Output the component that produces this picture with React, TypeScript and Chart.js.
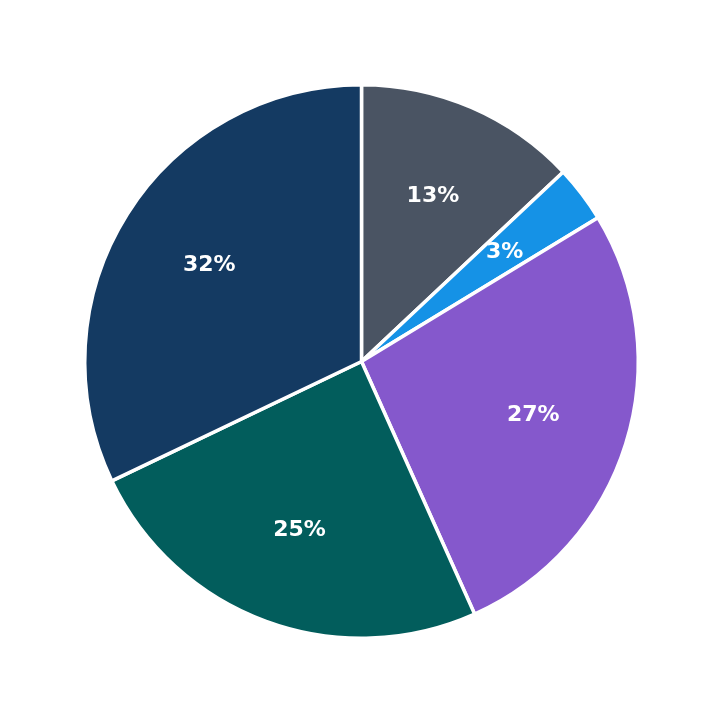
import Chart from 'chart.js/auto'
import { useEffect, useRef } from 'react'

const labels = ['Gray', 'Blue', 'Purple', 'Teal', 'Navy']
const values = [13.0, 3.3, 27.0, 24.6, 32.1]
const colors = ['#4a5463', '#1592e6', '#8558cc', '#025d5c', '#143a62']

const percentLabels = {
  id: 'percentLabels',
  afterDatasetsDraw(chart: any) {
    const ctx = chart.ctx
    const meta = chart.getDatasetMeta(0)
    const data = chart.data.datasets[0].data as number[]
    const total = data.reduce((a, b) => a + b, 0)
    ctx.save()
    ctx.fillStyle = '#ffffff'
    ctx.font = 'bold 22px "DejaVu Sans"'
    ctx.textAlign = 'center'
    ctx.textBaseline = 'middle'
    meta.data.forEach((arc: any, i: number) => {
      const { x, y, startAngle, endAngle, outerRadius } = arc.getProps(
        ['x', 'y', 'startAngle', 'endAngle', 'outerRadius'],
        true
      )
      const mid = (startAngle + endAngle) / 2
      const r = outerRadius * 0.65
      const pct = Math.round((data[i] / total) * 100)
      ctx.fillText(pct + '%', x + Math.cos(mid) * r, y + Math.sin(mid) * r)
    })
    ctx.restore()
  }
}

export default function App() {
  const canvasRef = useRef<HTMLCanvasElement>(null)

  useEffect(() => {
    if (!canvasRef.current) return () => {}
    const chart = new Chart(canvasRef.current, {
      type: 'pie',
      data: {
        labels,
        datasets: [
          {
            data: values,
            backgroundColor: colors,
            borderColor: '#ffffff',
            borderWidth: 3.5
          }
        ]
      },
      options: {
        animation: false,
        responsive: true,
        maintainAspectRatio: false,
        layout: { padding: 83 },
        plugins: {
          legend: { display: false },
          tooltip: { enabled: false }
        }
      },
      plugins: [percentLabels]
    })
    return () => {
      chart.destroy()
    }
  }, [])

  return (
    <div style={{ position: 'absolute', left: 0, top: 0, width: 723, height: 723 }}>
      <canvas ref={canvasRef} />
    </div>
  )
}
